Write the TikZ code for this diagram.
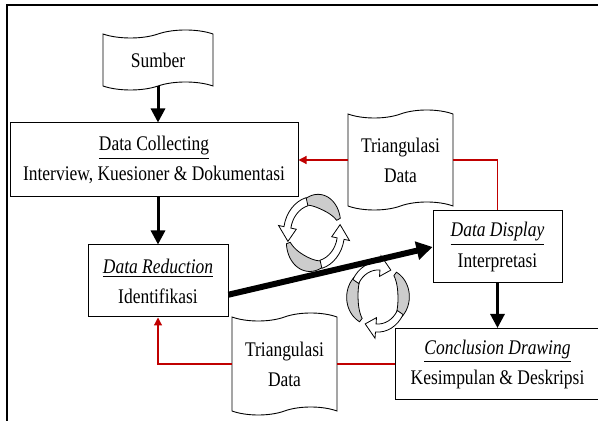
\documentclass[tikz,border=0pt]{standalone}
\usepackage{fontspec}
\setmainfont{Liberation Serif}[FakeStretch=0.84]
\usetikzlibrary{shapes,arrows.meta,positioning,calc}
\definecolor{trired}{RGB}{192,0,0}
\definecolor{cyclegray}{RGB}{204,204,204}

% gray ring crescent and white ring arrow (angles: from, to, tip)
\newcommand{\ringband}[2]{%
  \draw[fill=cyclegray, line width=0.4pt]
    plot[domain=#1:#2, samples=25] (\x:{27+2+4*sin(180/(#2-#1)*(\x-#1))})
    -- plot[domain=#2:#1, samples=25] (\x:{27-2-4*sin(180/(#2-#1)*(\x-#1))}) -- cycle;}
\newcommand{\ringarrow}[3]{%
  \draw[fill=white, line width=0.4pt] (#1:30.5) arc[start angle=#1, end angle=#2, radius=30.5]
    -- (#2:36) -- (#3:27) -- (#2:18) -- (#2:23.5) arc[start angle=#2, end angle=#1, radius=23.5] -- cycle;}

\begin{document}
\begin{tikzpicture}[x=0.5pt, y=-0.5pt,
    every node/.style={font=\fontsize{10.4}{15}\selectfont},
    box/.style={draw, line width=0.5pt, align=center, inner sep=2pt},
    tapebox/.style={tape, draw, line width=0.45pt, align=center, inner sep=2pt, tape bend height=4pt},
    bigarrow/.style={line width=1.5pt, -{Triangle[length=7pt, width=7pt]}},
    diagarrow/.style={line width=3pt, -{Triangle[length=8pt, width=9pt]}},
    redarrow/.style={draw=trired, line width=0.6pt}]
    \useasboundingbox (0,0) rectangle (598,421);
    \draw[line width=1pt] (7,421) -- (7,5) -- (598,5);

    \node[tapebox, minimum width=55pt, minimum height=30pt] (sumber) at (158,60) {Sumber};
    \node[box, minimum width=144pt, minimum height=37pt] (collect) at (154,160)
        {\underline{Data Collecting}\\Interview, Kuesioner \& Dokumentasi};
    \node[box, minimum width=70pt, minimum height=36pt] (reduct) at (158,281)
        {\underline{\textit{Data Reduction}}\\Identifikasi};
    \node[box, minimum width=64.5pt, minimum height=36pt] (display) at (497.5,247)
        {\underline{\textit{Data Display}}\\Interpretasi};
    \node[box, minimum width=102pt, minimum height=35.5pt] (concl) at (497.5,364)
        {\underline{\textit{Conclusion Drawing}}\\Kesimpulan \& Deskripsi};
    \node[tapebox, minimum width=52.5pt, minimum height=50pt] (tritop) at (400.5,160) {Triangulasi\\Data};
    \node[tapebox, minimum width=52.5pt, minimum height=51pt] (tribot) at (284.5,364) {Triangulasi\\Data};

    % cycles
    \begin{scope}[shift={(314,233)}, yscale=-1.2]
        \ringband{25}{112}
        \ringband{198}{292}
        \ringarrow{105}{170}{195}
        \ringarrow{285}{350}{375}
    \end{scope}
    \begin{scope}[shift={(378,297)}, xscale=0.95, yscale=-1.15]
        \ringband{135}{228}
        \ringband{-45}{48}
        \ringarrow{150}{85}{60}
        \ringarrow{330}{265}{240}
    \end{scope}

    \draw[bigarrow] (sumber.south) -- (sumber.south |- collect.north);
    \draw[bigarrow] (reduct.north |- collect.south) -- (reduct.north);
    \draw[bigarrow] (display.south) -- (display.south |- concl.north);
    \draw[diagarrow] (reduct.-11) -- (display.west);

    \draw[redarrow, -{Triangle[length=4pt, width=4pt]}] (tritop.west) -- (tritop.west -| collect.east);
    \draw[redarrow] (tritop.east) -| (display.north);
    \draw[redarrow] (concl.west) -- (tribot.east);
    \draw[redarrow, -{Triangle[length=4pt, width=4pt]}] (tribot.west) -| (reduct.south);
\end{tikzpicture}
\end{document}
